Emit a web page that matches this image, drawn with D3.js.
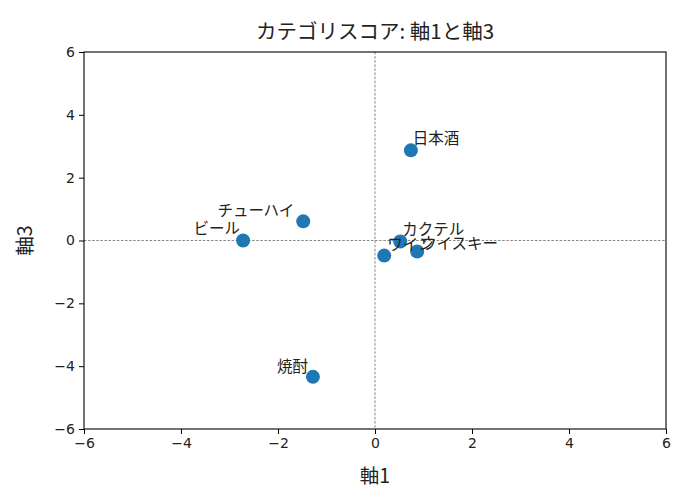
<!DOCTYPE html>
<html><head><meta charset="utf-8">
<script src="https://cdn.jsdelivr.net/npm/d3@7"></script>
<style>
body{margin:0;background:#fff;}
svg{display:block;}
.tick text{font-family:"DejaVu Sans",sans-serif;font-size:14px;fill:#222;}
</style></head>
<body><svg id="c" width="690" height="498"></svg>
<script>
const categories = ["日本酒","チューハイ","ビール","カクテル","ワイン","ウイスキー","焼酎"];
const axis1 = [0.74,-1.48,-2.72,0.52,0.19,0.87,-1.28];
const axis3 = [2.87,0.61,0.00,-0.03,-0.48,-0.35,-4.34];
// label anchor positions (data units) as placed in the reference
const labelX = [0.78,-3.25,-3.74,0.56,0.25,0.95,-2.02];
const labelY = [3.06,0.77,0.22,0.16,-0.30,-0.27,-4.18];
const xTicks = [-6,-4,-2,0,2,4,6];
const yTicks = [-6,-4,-2,0,2,4,6];

const svg = d3.select("#c");
const L=84, R=666, T=52, B=429;
const x = d3.scaleLinear().domain([-6,6]).range([L,R]);
const y = d3.scaleLinear().domain([-6,6]).range([B,T]);
const fmt = d => d<0 ? "\u2212"+Math.abs(d) : String(d);

// reference lines
svg.append("line").attr("x1",x(0)).attr("x2",x(0)).attr("y1",T).attr("y2",B)
  .attr("stroke","#555").attr("stroke-width",0.7).attr("stroke-dasharray","2.5,1.6");
svg.append("line").attr("x1",L).attr("x2",R).attr("y1",y(0)).attr("y2",y(0))
  .attr("stroke","#555").attr("stroke-width",0.7).attr("stroke-dasharray","2.5,1.6");

// axes
const gx = svg.append("g").attr("transform",`translate(0,${B})`)
  .call(d3.axisBottom(x).tickValues(xTicks).tickFormat(fmt).tickSize(5).tickPadding(4).tickSizeOuter(0));
const gy = svg.append("g").attr("transform",`translate(${L},0)`)
  .call(d3.axisLeft(y).tickValues(yTicks).tickFormat(fmt).tickSize(5).tickPadding(4).tickSizeOuter(0));
[gx,gy].forEach(g=>{g.select(".domain").remove();g.selectAll(".tick line").attr("stroke","#000").attr("stroke-width",1);});
svg.append("rect").attr("x",L).attr("y",T).attr("width",R-L).attr("height",B-T)
  .attr("fill","none").attr("stroke","#000").attr("stroke-width",1.1);

// points
const data = categories.map((c,i)=>({c,a:axis1[i],b:axis3[i],lx:labelX[i],ly:labelY[i]}));
svg.append("g").selectAll("circle").data(data).join("circle")
  .attr("cx",d=>x(d.a)).attr("cy",d=>y(d.b)).attr("r",7).attr("fill","#1f77b4");
svg.append("g").selectAll("text").data(data).join("text")
  .attr("x",d=>x(d.lx)).attr("y",d=>y(d.ly))
  .attr("font-family","'Noto Sans CJK JP',sans-serif").attr("font-size",15.5).attr("fill","#222")
  .text(d=>d.c);

// title & labels
const jp = "'Noto Sans CJK JP',sans-serif";
svg.append("text").attr("x",(L+R)/2).attr("y",39).attr("text-anchor","middle")
  .attr("font-family",jp).attr("font-size",20.5).attr("fill","#222").text("カテゴリスコア: 軸1と軸3");
svg.append("text").attr("x",(L+R)/2).attr("y",483).attr("text-anchor","middle")
  .attr("font-family",jp).attr("font-size",19.5).attr("fill","#222").text("軸1");
svg.append("text").attr("transform",`translate(32,${(T+B)/2}) rotate(-90)`).attr("text-anchor","middle")
  .attr("font-family",jp).attr("font-size",19.5).attr("fill","#222").text("軸3");
</script></body></html>
